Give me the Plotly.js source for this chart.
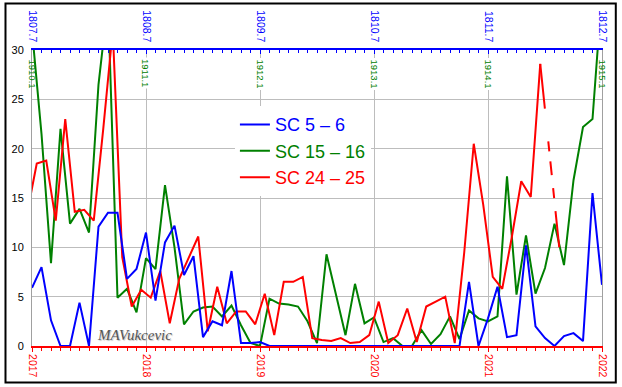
<!DOCTYPE html>
<html><head><meta charset="utf-8">
<script src="https://cdn.plot.ly/plotly-3.0.1.min.js"></script>
<style>html,body{margin:0;padding:0;background:#fff}#chart{width:622px;height:387px}</style>
</head><body><div id="chart"></div>
<script>
// ---- data ----
const startYear = 2017;
const yearTicks = [2017, 2018, 2019, 2020, 2021, 2022];
const bottomTickLabels = ['2017', '2018', '2019', '2020', '2021', '2022'];
const topTickLabels = ['1807.7', '1808.7', '1809.7', '1810.7', '1811.7', '1812.7'];
const innerTickLabels = ['1910.1', '1911.1', '1912.1', '1913.1', '1914.1', '1915.1'];
const seriesNames = ['SC 5 – 6', 'SC 15 – 16', 'SC 24 – 25'];

// monthly values, Jan 2017 .. Jan 2022 (61 months)
const sc5_6 = [5.9, 8.0, 2.6, 0, 0, 4.4, 0, 12.1, 13.5, 13.5, 6.8, 7.8, 11.5, 4.6, 10.5, 12.2, 7.2, 9.1, 0.9, 2.5,
  2.1, 7.6, 0.3, 0.3, 0.4, 0, 0, 0, 0, 0, 0, 0, 0, 0, 0, 0, 0, 0, 0, 0,
  0, 0, 0, 0, 0, 0, 6.5, 0, 2.8, 6.0, 0.9, 1.1, 10.2, 2.0, 0.8, 0, 1.0, 1.3, 0.5, 15.5, 6.2];
const sc15_16 = [32, 21.5, 8.4, 22.0, 12.4, 13.9, 11.5, 26.5, 35, 4.9, 5.8, 3.4, 8.9, 7.8, 16.3, 10.0, 2.2, 3.5, 3.9, 4.0,
  3.0, 4.1, 2.1, 0.3, 0, 4.8, 4.3, 4.2, 4.0, 2.5, 0.3, 9.3, 5.2, 1.1, 6.3, 2.3, 2.9, 0.4, 0.8, 0,
  0, 1.6, 0.2, 1.2, 3.0, 0.7, 3.6, 2.8, 2.5, 3.0, 17.2, 5.2, 11.2, 5.3, 7.9, 12.4, 8.2, 16.8, 22.2, 23.0, 36];
// mid-month values, Dec 2016 .. Jun 2021
const sc24_25 = [13.5, 18.5, 18.8, 12.7, 23.0, 13.6, 13.8, 12.7, 22.0, 32.0, 9.0,
  4.0, 5.7, 4.9, 7.6, 2.3, 6.8, 8.9, 11.1, 1.5, 6.0,
  2.3, 3.5, 3.5, 2.2, 5.3, 1.1, 6.5, 6.5, 7.0, 0.8,
  0.6, 0.5, 0.8, 0.3, 0.4, 1.1, 4.5, 0.3, 1.1, 3.8,
  0.4, 4.0, 4.5, 5.0, 0.3, 9.5, 20.5, 14.3, 7.0, 5.8,
  11.0, 16.7, 15.1, 28.6];
// provisional continuation (dashed), Jun 2021 .. Aug 2021
const sc24_25_provisional = [28.6, 10.0];

// ---- derived x positions (decimal years) ----
const monthX = sc5_6.map((_, i) => startYear + i / 12);
const monthX15 = sc15_16.map((_, i) => startYear + i / 12);
const midMonthX = sc24_25.map((_, i) => startYear + (i - 0.5) / 12);
const lastRedX = midMonthX[midMonthX.length - 1];
const provisionalX = sc24_25_provisional.map((_, i) => lastRedX + 2 * i / 12);

const SANS = 'Liberation Sans, Arial, sans-serif';
const BLUE = '#0000ff', GREEN = '#008000', RED = '#ff0000', GRID = '#bdbdbd';

const traces = [
  { x: monthX15, y: sc15_16, xaxis: 'x', yaxis: 'y', mode: 'lines', legendrank: 2,
    name: '<span style="color:' + GREEN + '">' + seriesNames[1] + '</span>',
    line: { color: GREEN, width: 2 } },
  { x: midMonthX, y: sc24_25, xaxis: 'x', yaxis: 'y', mode: 'lines', legendrank: 3,
    name: '<span style="color:' + RED + '">' + seriesNames[2] + '</span>',
    line: { color: RED, width: 2 } },
  { x: provisionalX, y: sc24_25_provisional, xaxis: 'x', yaxis: 'y', mode: 'lines', showlegend: false,
    line: { color: RED, width: 2, dash: '45px,33px,10px,10px,14px,13px,10px,13px,40px' } },
  { x: monthX, y: sc5_6, xaxis: 'x2', yaxis: 'y', mode: 'lines', legendrank: 1,
    name: '<span style="color:' + BLUE + '">' + seriesNames[0] + '</span>',
    line: { color: BLUE, width: 2 } }
];

const annotations = innerTickLabels.map((t, i) => ({
  x: yearTicks[i], xref: 'x', y: 1, yref: 'paper', yanchor: 'top', xanchor: 'center', yshift: -7,
  text: t, textangle: 90, showarrow: false,
  font: { family: SANS, size: 9.5, color: GREEN },
  bgcolor: (i > 0 && i < innerTickLabels.length - 1) ? '#ffffff' : 'rgba(0,0,0,0)', borderpad: 1
}));
annotations.push({
  x: 0.1105, xref: 'paper', y: 0.037, yref: 'paper', xanchor: 'left', yanchor: 'middle',
  text: 'MAVukcevic', showarrow: false,
  font: { family: 'Liberation Serif, DejaVu Serif, serif', size: 15, style: 'italic', color: '#555555',
          shadow: '1px 1px 1px #c0c0c0' }
});

const layout = {
  width: 622, height: 387,
  margin: { l: 32, r: 20, t: 50, b: 41 },
  paper_bgcolor: '#ffffff', plot_bgcolor: '#ffffff',
  showlegend: true,
  legend: { x: 0.356, y: 0.81, xanchor: 'left', yanchor: 'top', bgcolor: '#ffffff', borderwidth: 0,
            font: { family: SANS, size: 18 }, tracegroupgap: 0 },
  xaxis: { range: [2017, 2022], tickmode: 'array', tickvals: yearTicks, ticktext: bottomTickLabels,
           tickangle: 90, tickfont: { family: SANS, size: 10.5, color: RED },
           showline: true, linecolor: RED, linewidth: 2, ticks: 'outside', ticklen: 4, tickcolor: RED, tickwidth: 1,
           minor: { tickmode: 'linear', tick0: 2017, dtick: 1 / 12, ticks: 'outside', ticklen: 3, tickcolor: RED, showgrid: false },
           showgrid: true, gridcolor: GRID, gridwidth: 1, zeroline: false, layer: 'below traces' },
  xaxis2: { overlaying: 'x', side: 'top', range: [2017, 2022], tickmode: 'array', tickvals: yearTicks, ticktext: topTickLabels,
            tickangle: 90, tickfont: { family: SANS, size: 10.5, color: BLUE },
            showline: true, linecolor: BLUE, linewidth: 2, ticks: 'inside', ticklen: 4, tickcolor: BLUE, tickwidth: 1,
            minor: { tickmode: 'linear', tick0: 2017, dtick: 1 / 12, ticks: 'inside', ticklen: 3, tickcolor: BLUE, showgrid: false },
            showgrid: false, zeroline: false, ticklabelstandoff: 2 },
  yaxis: { range: [0, 30], tickmode: 'linear', tick0: 0, dtick: 5,
           tickfont: { family: SANS, size: 11, color: '#000000' },
           showline: true, mirror: true, linecolor: '#a0a0a0', linewidth: 1, ticks: '',
           showgrid: true, gridcolor: GRID, gridwidth: 1, zeroline: false, ticklabelstandoff: 5 },
  annotations: annotations,
  shapes: [{ type: 'rect', xref: 'paper', yref: 'paper', x0: -0.0465, x1: 1.0242, y0: -0.1233, y1: 1.1571,
             line: { color: '#000000', width: 2 }, fillcolor: 'rgba(0,0,0,0)', layer: 'above' }]
};

Plotly.newPlot('chart', traces, layout, { staticPlot: true, displayModeBar: false });
</script>
</body></html>
